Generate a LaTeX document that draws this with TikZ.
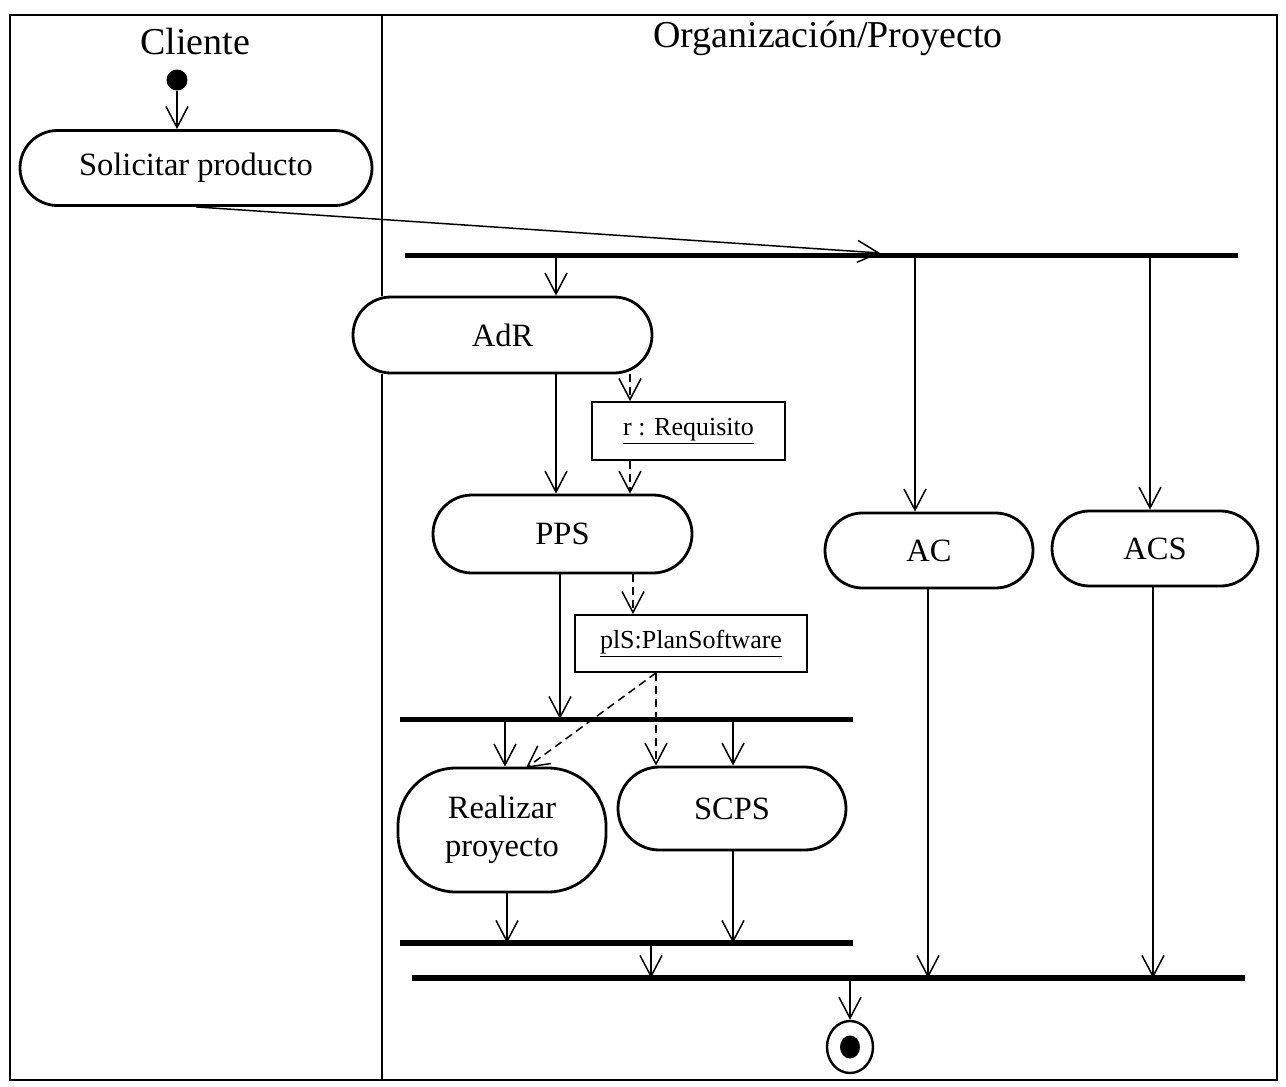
\documentclass[tikz,border=0pt]{standalone}
\usepackage{fontspec}
\setmainfont{Liberation Serif}
\usetikzlibrary{arrows.meta,shapes.misc,shapes.geometric}
\begin{document}
\begin{tikzpicture}[x=1pt,y=-1pt,
  flow/.style={line width=1.5pt,-{Straight Barb[length=21pt,width=22pt,line width=1.5pt]}},
  objflow/.style={flow,dash pattern=on 8pt off 5pt},
  action/.style={draw,fill=white,line width=2.8pt,rounded rectangle,inner sep=0pt,
    font=\fontsize{32.5}{38}\selectfont},
  object/.style={draw,fill=white,line width=1.8pt,rectangle,inner sep=0pt,
    font=\fontsize{26}{30}\selectfont},
  bar/.style={fill=black,inner sep=0pt,minimum height=5pt},
  lane/.style={font=\fontsize{38}{42}\selectfont},
  frame/.style={line width=2pt}]

\useasboundingbox (0,0) rectangle (1286,1087);

% nodes
\node[lane] (cl) at (195,42) {Cliente};
\node[lane] (org) at (828,38) {Organización/Proyecto};
\node[circle,fill,inner sep=0pt,minimum size=21pt] (ini) at (177,80) {};
\node[action,minimum width=352pt,minimum height=75pt] (sol) at (196,168) {Solicitar producto};
\node[bar,minimum width=833pt] (f1) at (821.5,255) {};
\node[action,minimum width=299pt,minimum height=76pt] (adr) at (502.5,335) {AdR};
\node[object,minimum width=193pt,minimum height=58pt] (req) at (688.5,431) {\underline{r : Requisito}};
\node[action,minimum width=259pt,minimum height=78pt] (pps) at (562.5,534) {PPS};
\node[action,minimum width=208pt,minimum height=75pt] (ac) at (929,550.5) {AC};
\node[action,minimum width=206pt,minimum height=75pt] (acs) at (1155,548.5) {ACS};
\node[object,minimum width=232pt,minimum height=57pt] (pls) at (691,643.5) {\underline{plS:PlanSoftware}};
\node[bar,minimum width=453pt] (f2) at (626.5,719) {};
\node[draw,fill=white,line width=2.8pt,rounded corners=58pt,minimum width=208pt,minimum height=124pt,
  inner sep=0pt,align=center,font=\fontsize{32.5}{38}\selectfont] (rp) at (502,830) {Realizar\\proyecto};
\node[action,minimum width=228pt,minimum height=83pt] (scps) at (732,808.5) {SCPS};
\node[bar,minimum width=453pt,minimum height=6pt] (j1) at (626.5,943) {};
\node[bar,minimum width=833pt,minimum height=6pt] (j2) at (828.5,978) {};
\node[ellipse,draw,line width=2.4pt,minimum width=46pt,minimum height=52pt,inner sep=0pt] (fin) at (850,1047) {};
\node[ellipse,fill,minimum width=20pt,minimum height=23pt,inner sep=0pt] (findot) at (fin) {};

% swimlanes (the lane divider stops where AdR overlaps it)
\coordinate (xl) at (382,0);
\draw[frame] (10,15) rectangle (1277,1080);
\draw[frame] (382,15) -- (adr.north -| xl);
\draw[frame] (adr.south -| xl) -- (382,1080);

% connector positions
\coordinate (f1in) at (880,253);
\coordinate (xa) at (556,0);
\coordinate (xc) at (915,0);
\coordinate (xs) at (1150,0);
\coordinate (xr) at (630,0);
\coordinate (xp) at (560,0);
\coordinate (xo) at (633,0);
\coordinate (xrp) at (505,0);
\coordinate (xsc) at (733,0);
\coordinate (xd) at (656,0);
\coordinate (rpin) at (526,768);
\coordinate (xrpo) at (507,0);
\coordinate (xj) at (651,0);
\coordinate (xac) at (928,0);
\coordinate (xacs) at (1153,0);

% control flow
\draw[flow] (ini) -- (sol.north -| ini);
\draw[flow] (sol.south) -- (f1in);
\draw[flow] (f1 -| xa) -- (adr.north -| xa);
\draw[flow] (f1 -| xc) -- (ac.north -| xc);
\draw[flow] (f1 -| xs) -- (acs.north -| xs);
\draw[flow] (adr.south -| xa) -- (pps.north -| xa);
\draw[flow] (pps.south -| xp) -- (f2 -| xp);
\draw[flow] (f2 -| xrp) -- (rp.north -| xrp);
\draw[flow] (f2 -| xsc) -- (scps.north -| xsc);
\draw[flow] (rp.south -| xrpo) -- (j1 -| xrpo);
\draw[flow] (scps.south -| xsc) -- (j1 -| xsc);
\draw[flow] (j1 -| xj) -- (j2 -| xj);
\draw[flow] (ac.south -| xac) -- (j2 -| xac);
\draw[flow] (acs.south -| xacs) -- (j2 -| xacs);
\draw[flow] (j2 -| fin) -- (fin.north);

% object flow
\draw[objflow] (adr.south -| xr) -- (req.north -| xr);
\draw[objflow] (req.south -| xr) -- (pps.north -| xr);
\draw[objflow] (pps.south -| xo) -- (pls.north -| xo);
\draw[objflow] (pls.south -| xd) -- (rpin);
\draw[objflow] (pls.south -| xd) -- (scps.north -| xd);
\end{tikzpicture}
\end{document}
